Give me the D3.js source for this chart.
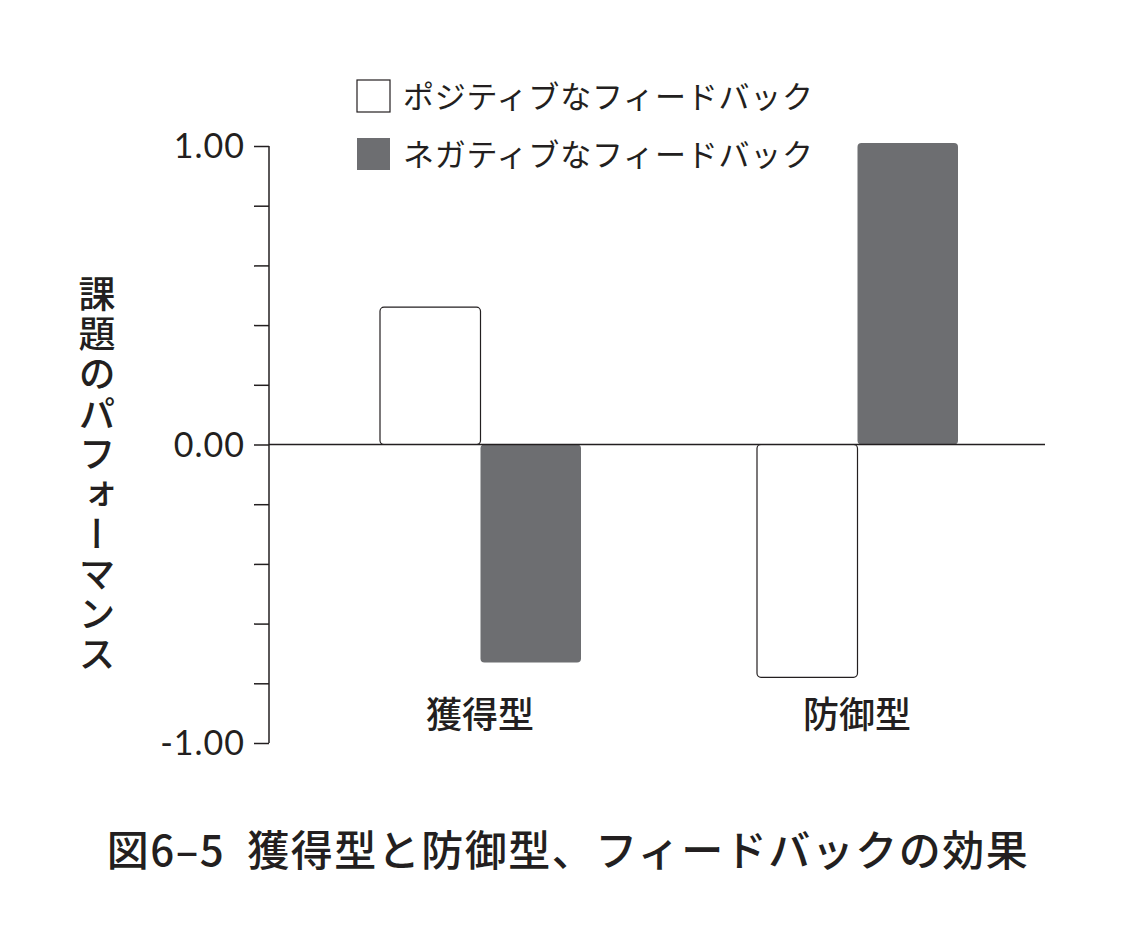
<!DOCTYPE html>
<html><head><meta charset="utf-8">
<script src="https://cdn.jsdelivr.net/npm/d3@7"></script>
<style>body{margin:0;background:#fff}</style></head>
<body><svg id="c" width="1126" height="927"></svg>
<script>
const categories = ["獲得型", "防御型"];
const seriesNames = ["ポジティブなフィードバック", "ネガティブなフィードバック"];
const positive = [0.46, -0.78];
const negative = [-0.73, 1.01];
const tickLabels = ["1.00", "0.00", "-1.00"];
const title = "図6–5  獲得型と防御型、フィードバックの効果";
const yLabel = "課題のパフォーマンス";

const font = "'Noto Sans CJK JP', 'Noto Sans', sans-serif";
const svg = d3.select("#c");
const y = d3.scaleLinear().domain([-1, 1]).range([743, 146]);
const x = d3.scalePoint().domain(categories).range([480, 857]);
const xs = d3.scaleBand().domain([0, 1]).range([-100, 101]);
const colors = ["#fff", "#6d6e71"];

const ax = d3.axisLeft(y).tickValues(d3.range(-1, 1.001, 0.2)).tickSize(15).tickFormat(() => "");
const g = svg.append("g").attr("transform", "translate(269,0)").call(ax);
g.select(".domain").remove();
g.selectAll("line").attr("stroke", "#231f20").attr("stroke-width", 1.5);
svg.append("line").attr("x1", 269).attr("x2", 269).attr("y1", y(1)).attr("y2", y(-1)).attr("stroke", "#231f20").attr("stroke-width", 1.5);
svg.selectAll(".tl").data([1, 0, -1]).join("text")
  .attr("x", 245).attr("y", d => y(d) + 12).attr("text-anchor", "end")
  .attr("font-family", "Lato, 'Noto Sans', sans-serif").attr("font-size", 34).attr("letter-spacing", 1).attr("fill", "#231f20")
  .text((d, i) => tickLabels[i]);

const data = [positive, negative];
data.forEach((vals, s) => {
  svg.selectAll(".b" + s).data(vals).join("rect")
    .attr("x", (d, i) => x(categories[i]) + xs(s))
    .attr("width", xs.bandwidth())
    .attr("y", d => y(Math.max(0, d)))
    .attr("height", d => Math.abs(y(d) - y(0)))
    .attr("rx", 4)
    .attr("fill", colors[s])
    .attr("stroke", s === 0 ? "#231f20" : "none").attr("stroke-width", 1.2);
});
svg.append("line").attr("x1", 269).attr("x2", 1045).attr("y1", y(0)).attr("y2", y(0)).attr("stroke", "#231f20").attr("stroke-width", 1.5);

svg.selectAll(".cat").data(categories).join("text")
  .attr("x", d => x(d)).attr("y", 728).attr("text-anchor", "middle")
  .attr("font-family", font).attr("font-size", 36).attr("font-weight", 500).attr("fill", "#231f20").text(d => d);

seriesNames.forEach((n, i) => {
  const ly = 80 + i * 58;
  svg.append("rect").attr("x", 357).attr("y", ly).attr("width", 33).attr("height", 32)
    .attr("fill", colors[i]).attr("stroke", i === 0 ? "#231f20" : "none").attr("stroke-width", 1.2);
  svg.append("text").attr("x", 403).attr("y", ly + 28).attr("font-family", font).attr("font-size", 31)
    .attr("letter-spacing", 0.8).attr("fill", "#231f20").text(n);
});

svg.append("text").attr("x", 97).attr("y", 275)
  .attr("font-family", font).attr("font-size", 37).attr("font-weight", 500).attr("fill", "#231f20")
  .style("writing-mode", "vertical-rl").attr("letter-spacing", 3).text(yLabel);

svg.append("text").attr("x", 568).attr("y", 866).attr("text-anchor", "middle")
  .attr("font-family", font).attr("font-size", 42).attr("font-weight", 500).attr("letter-spacing", 1.5).attr("fill", "#231f20")
  .style("white-space", "pre").text(title);
</script></body></html>
